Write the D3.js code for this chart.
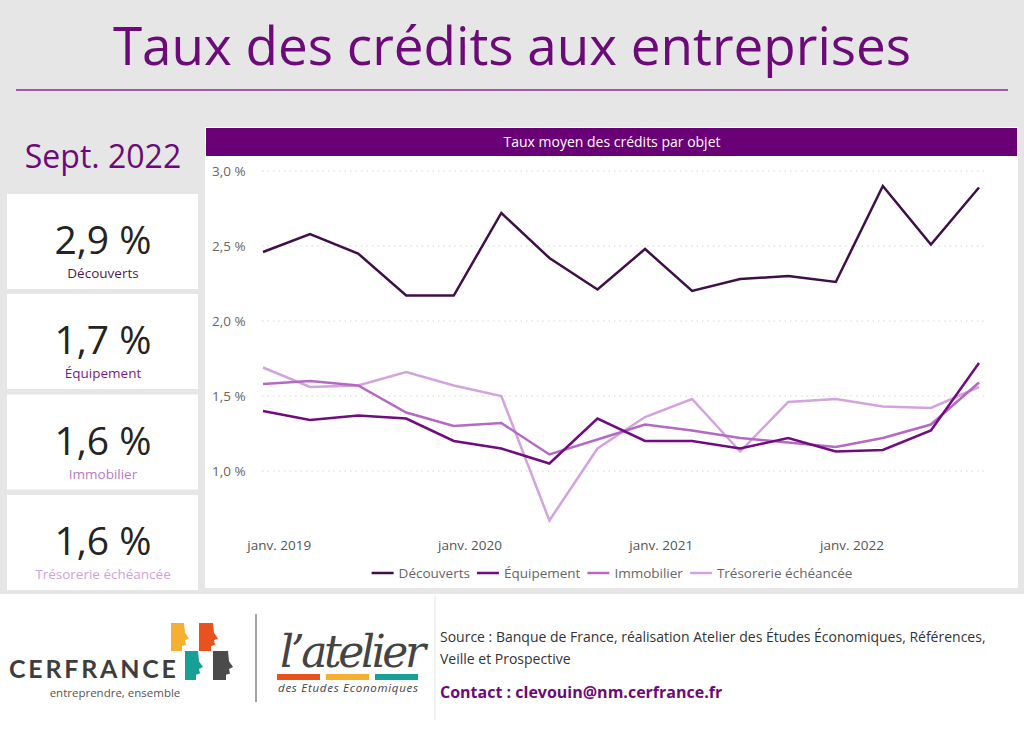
<!DOCTYPE html>
<html lang="fr">
<head>
<meta charset="UTF-8">
<title>Taux des crédits aux entreprises</title>
<script src="https://d3js.org/d3.v7.min.js"></script>
<style>
  body { margin: 0; background: #fff; }
  svg { display: block; font-family: "Open Sans", "Noto Sans", sans-serif; }
</style>
</head>
<body>
<div id="chart"></div>
<script>
// quarterly points, déc. 2018 -> sept. 2022
const months = ["2018-12","2019-03","2019-06","2019-09","2019-12","2020-03","2020-06","2020-09",
                "2020-12","2021-03","2021-06","2021-09","2021-12","2022-03","2022-06","2022-09"];

const decouverts = [2.46,2.58,2.45,2.17,2.17,2.72,2.42,2.21,2.48,2.20,2.28,2.30,2.26,2.90,2.51,2.89];
const equipement = [1.40,1.34,1.37,1.35,1.20,1.15,1.05,1.35,1.20,1.20,1.15,1.22,1.13,1.14,1.27,1.72];
const immobilier = [1.58,1.60,1.57,1.39,1.30,1.32,1.11,1.21,1.31,1.27,1.22,1.19,1.16,1.22,1.31,1.59];
const tresorerie = [1.69,1.56,1.57,1.66,1.57,1.50,0.67,1.15,1.36,1.48,1.13,1.46,1.48,1.43,1.42,1.56];

const seriesNames = ["Découverts","Équipement","Immobilier","Trésorerie échéancée"];
const seriesColors = ["#3f0f47","#700b80","#b46ac4","#d3a3dd"];
const yTicks = [1.0, 1.5, 2.0, 2.5, 3.0];
const xTicks = ["2019-01","2020-01","2021-01","2022-01"];

// latest values shown in the cards
const cardValues = ["2,9 %","1,7 %","1,6 %","1,6 %"];
const cardPeriod = "Sept. 2022";

const W = 1024, H = 729;
const purple = "#6b0a78";
const parse = d3.timeParse("%Y-%m");
const fr = d3.formatLocale({decimal: ",", thousands: " ", grouping: [3], currency: ["", " €"]});
const fmt = fr.format(".1f");
const monthsFr = ["janv.","févr.","mars","avr.","mai","juin","juil.","août","sept.","oct.","nov.","déc."];

const svg = d3.select("#chart").append("svg")
    .attr("width", W).attr("height", H);

// backgrounds
svg.append("rect").attr("width", W).attr("height", 594).attr("fill", "#e6e6e6");
svg.append("rect").attr("y", 594).attr("width", W).attr("height", H - 594).attr("fill", "#fff");

// title
svg.append("text")
    .attr("x", 512).attr("y", 65)
    .attr("text-anchor", "middle")
    .attr("fill", purple)
    .style("font-size", "53px")
    .text("Taux des crédits aux entreprises");
svg.append("line")
    .attr("x1", 16).attr("x2", 1008).attr("y1", 90).attr("y2", 90)
    .attr("stroke", "#8b2a98").attr("stroke-width", 1.5);

// left panel: period + cards
svg.append("text")
    .attr("x", 103).attr("y", 168)
    .attr("text-anchor", "middle")
    .attr("fill", purple)
    .style("font-size", "32px")
    .text(cardPeriod);

const cardTops = [194, 294, 394.5, 495];
const labelColors = ["#4b1c52","#7a1a88","#b679c4","#cfa2da"];
const cards = svg.selectAll("g.card")
    .data(seriesNames)
    .join("g")
    .attr("class", "card")
    .attr("transform", (d, i) => `translate(7,${cardTops[i]})`);
cards.append("rect")
    .attr("width", 191).attr("height", 95)
    .attr("fill", "#fff");
cards.append("text")
    .attr("x", 96).attr("y", 60)
    .attr("text-anchor", "middle")
    .attr("fill", "#252423")
    .style("font-size", "39px")
    .text((d, i) => cardValues[i]);
cards.append("text")
    .attr("x", 96).attr("y", 84)
    .attr("text-anchor", "middle")
    .attr("fill", (d, i) => labelColors[i])
    .style("font-size", "13.5px")
    .text(d => d);

// chart panel
const panel = {x: 205, y: 127, w: 813, h: 461};
svg.append("rect")
    .attr("x", panel.x).attr("y", panel.y).attr("width", panel.w).attr("height", panel.h)
    .attr("fill", "#fff");
svg.append("rect")
    .attr("x", panel.x + 1).attr("y", panel.y + 1).attr("width", panel.w - 2).attr("height", 28)
    .attr("fill", "#6a0075");
svg.append("text")
    .attr("x", 612).attr("y", 147)
    .attr("text-anchor", "middle")
    .attr("fill", "#fff")
    .style("font-size", "14px")
    .text("Taux moyen des crédits par objet");

const x = d3.scaleTime()
    .domain([parse("2018-12"), parse("2022-09")])
    .range([263, 979]);
const y = d3.scaleLinear()
    .domain([0.6, 3.0])
    .range([531, 171]);

// gridlines + y labels
const yAxis = svg.append("g");
yAxis.selectAll("line")
    .data(yTicks)
    .join("line")
    .attr("x1", 262).attr("x2", 987)
    .attr("y1", d => y(d)).attr("y2", d => y(d))
    .attr("stroke", "#d4d4d4")
    .attr("stroke-dasharray", "1.5,4");
yAxis.selectAll("text")
    .data(yTicks)
    .join("text")
    .attr("x", 212).attr("y", d => y(d) + 5)
    .attr("fill", "#666")
    .style("font-size", "13.5px")
    .text(d => fmt(d) + " %");

// x labels
svg.append("g").selectAll("text")
    .data(xTicks.map(parse))
    .join("text")
    .attr("x", d => x(d)).attr("y", 550)
    .attr("text-anchor", "middle")
    .attr("fill", "#555")
    .style("font-size", "13.5px")
    .text(d => monthsFr[d.getMonth()] + " " + d.getFullYear());

// lines
const allSeries = [decouverts, equipement, immobilier, tresorerie];
const dates = months.map(parse);
const line = d3.line()
    .x((d, i) => x(dates[i]))
    .y(d => y(d));
// draw light first so dark series sits on top
svg.append("g").selectAll("path")
    .data(allSeries.map((s, i) => ({s, i})).reverse())
    .join("path")
    .attr("d", d => line(d.s))
    .attr("fill", "none")
    .attr("stroke", d => seriesColors[d.i])
    .attr("stroke-width", 2.5)
    .attr("stroke-linejoin", "miter");

// legend
const legend = svg.append("g");
let lx = 0;
seriesNames.forEach((name, i) => {
  const g = legend.append("g");
  g.append("line").attr("x1", 0).attr("x2", 22).attr("y1", 0).attr("y2", 0)
    .attr("stroke", seriesColors[i]).attr("stroke-width", 2.5);
  const t = g.append("text").attr("x", 27).attr("y", 5)
    .attr("fill", "#666").style("font-size", "13.5px").text(name);
  const w = 27 + t.node().getComputedTextLength();
  g.attr("transform", `translate(${lx},0)`);
  lx += w + 7;
});
legend.attr("transform", `translate(${612 - (lx - 7) / 2},573)`);

// footer
svg.append("line")
    .attr("x1", 435).attr("x2", 435).attr("y1", 596).attr("y2", 720)
    .attr("stroke", "#ececec").attr("stroke-width", 1.5);

// CERFRANCE logo
const logo = svg.append("g");
logo.append("text")
    .attr("x", 9).attr("y", 678)
    .attr("fill", "#3e3e3e")
    .style("font-family", "Lato, 'Open Sans', sans-serif")
    .style("font-weight", 700)
    .style("font-size", "25px")
    .attr("textLength", 167)
    .text("CERFRANCE");
logo.append("text")
    .attr("x", 115).attr("y", 697)
    .attr("text-anchor", "middle")
    .attr("fill", "#555")
    .style("font-size", "11.5px")
    .text("entreprendre, ensemble");
// head blocks with a profile cut on the right side
function head(x0, y0, w, h, color) {
  const p = d3.path();
  p.moveTo(x0, y0);
  p.lineTo(x0 + w - 5, y0);
  p.lineTo(x0 + w - 4, y0 + h * 0.35);
  p.lineTo(x0 + w, y0 + h * 0.55);
  p.lineTo(x0 + w - 4, y0 + h * 0.62);
  p.lineTo(x0 + w - 3, y0 + h * 0.78);
  p.lineTo(x0 + w - 7, y0 + h * 0.82);
  p.lineTo(x0 + w - 7, y0 + h);
  p.lineTo(x0, y0 + h);
  p.closePath();
  logo.append("path").attr("d", p.toString()).attr("fill", color);
}
head(171, 623, 18, 28, "#f5b031");
head(199, 623, 19, 28, "#e9511f");
head(185, 651, 18, 29, "#17a095");
head(213, 651, 20, 29, "#4b4b4b");

svg.append("line")
    .attr("x1", 256).attr("x2", 256).attr("y1", 614).attr("y2", 702)
    .attr("stroke", "#666").attr("stroke-width", 1.2);

// l'atelier logo
const at = svg.append("g");
at.append("text")
    .attr("x", 280).attr("y", 667)
    .attr("fill", "#444")
    .style("font-family", "'DejaVu Serif', serif")
    .style("font-style", "italic")
    .style("font-size", "44px")
    .attr("textLength", 146)
    .text("l’atelier");
const barColors = ["#e9511f", "#f5b031", "#17a095"];
at.selectAll("rect")
    .data(barColors)
    .join("rect")
    .attr("x", (d, i) => 277 + i * 49).attr("y", 674)
    .attr("width", 43).attr("height", 6)
    .attr("fill", d => d);
at.append("text")
    .attr("x", 278).attr("y", 692)
    .attr("fill", "#444")
    .style("font-style", "italic")
    .style("font-size", "11.5px")
    .attr("textLength", 140)
    .text("des Etudes Economiques");

// source / contact
svg.append("text")
    .attr("x", 440).attr("y", 642)
    .attr("fill", "#333")
    .style("font-size", "14px")
    .text("Source : Banque de France, réalisation Atelier des Études Économiques, Références,");
svg.append("text")
    .attr("x", 440).attr("y", 664)
    .attr("fill", "#333")
    .style("font-size", "14px")
    .text("Veille et Prospective");
svg.append("text")
    .attr("x", 440).attr("y", 698)
    .attr("fill", purple)
    .style("font-size", "16px")
    .style("font-weight", 700)
    .text("Contact : clevouin@nm.cerfrance.fr");
</script>
</body>
</html>
